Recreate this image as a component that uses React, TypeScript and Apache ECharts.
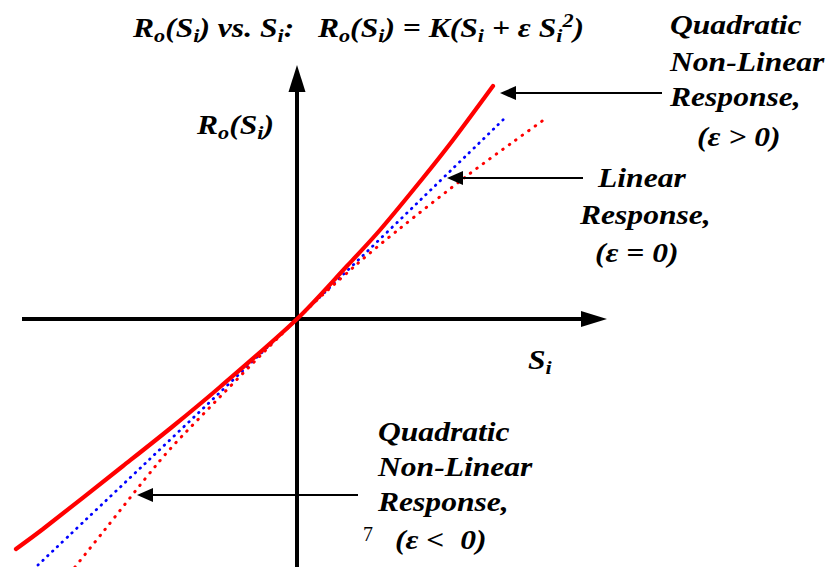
import React, { useEffect, useRef } from "react";
import * as echarts from "echarts";

// Input signal S_i and output response R_o(S_i) for the three response types
const linearS = [-2.59, 0, 2.08];
const linearR = [-2.46, 0, 2.01];

// epsilon > 0 : convex quadratic response (solid red)
const positiveS = [-2.81, -2.54, -1.74, -1.25, -0.77, 0, 0.5, 0.83, 1.26, 1.56, 1.96];
const positiveR = [-2.3, -2.1, -1.47, -1.08, -0.68, 0, 0.53, 0.89, 1.41, 1.79, 2.33];

// epsilon < 0 : concave quadratic response (dotted red)
const negativeS = [-2.22, -1.94, -1.39, -1.12, 0, 0.59, 1.01, 1.71, 2.16, 2.48];
const negativeR = [-2.48, -2.13, -1.44, -1.14, 0, 0.54, 0.89, 1.44, 1.77, 2.0];

// Axis extents (tail, arrow tip) in signal units
const sAxisTail: [number, number] = [-2.75, 0];
const sAxisTip: [number, number] = [3.1, 0];
const rAxisTail: [number, number] = [0, -2.6];
const rAxisTip: [number, number] = [0, 2.54];

// Callout pointers (tail, tip)
const pointerTails: [number, number][] = [
  [3.65, 2.26],
  [2.86, 1.41],
  [0.61, -1.76],
];
const pointerTips: [number, number][] = [
  [2.03, 2.26],
  [1.5, 1.41],
  [-1.6, -1.76],
];

const WIDTH = 830;
const HEIGHT = 567;
const PX_PER_UNIT = 100;
const ORIGIN_X = 297;
const ORIGIN_Y = 319;

const FONT = "'Liberation Serif', 'Times New Roman', serif";
const MAIN = 27;
const SMALL = 19;
const STRETCH = 1.17;

const rich = {
  b: { fontFamily: FONT, fontSize: MAIN, fontWeight: "bold", fontStyle: "italic", fill: "#000" },
  s: { fontFamily: FONT, fontSize: SMALL, fontWeight: "bold", fontStyle: "italic", fill: "#000", padding: [16, 0, 0, 0] },
  p: { fontFamily: FONT, fontSize: SMALL, fontWeight: "bold", fontStyle: "italic", fill: "#000", padding: [0, 0, 14, 0] },
};

const label = (text: string, x: number, y: number) => ({
  type: "text",
  x,
  y,
  scaleX: STRETCH,
  silent: true,
  z: 10,
  style: {
    text,
    rich,
    fontFamily: FONT,
    fontSize: MAIN,
    fontWeight: "bold",
    fontStyle: "italic",
    fill: "#000",
    textAlign: "left",
    textVerticalAlign: "middle",
    verticalAlign: "middle",
  },
});

const pairs = (xs: number[], ys: number[]) => xs.map((x, i) => [x, ys[i]]);

const curve = (S: number[], R: number[], color: string, width: number, dash: any, z: number) => ({
  type: "line",
  data: pairs(S, R),
  smooth: 0.3,
  symbol: "none",
  silent: true,
  z,
  lineStyle: { color, width, type: dash, cap: "round" },
});

// A straight shaft with a triangular head; the head is centred half its length behind the tip
const arrow = (
  tail: [number, number],
  tip: [number, number],
  head: [number, number],
  width: number,
  z: number
) => {
  const dx = tip[0] - tail[0];
  const dy = tip[1] - tail[1];
  const len = Math.hypot(dx, dy);
  const back = head[1] / 2 / PX_PER_UNIT;
  const centre = [tip[0] - (dx / len) * back, tip[1] - (dy / len) * back];
  const rot = (Math.atan2(dy, dx) * 180) / Math.PI - 90;
  return {
    type: "line",
    silent: true,
    z,
    symbol: "none",
    lineStyle: { color: "#000", width, type: "solid" },
    itemStyle: { color: "#000" },
    data: [
      { value: tail, symbol: "none" },
      { value: centre, symbol: "triangle", symbolSize: head, symbolRotate: rot },
    ],
  };
};

export default function App() {
  const ref = useRef<HTMLDivElement>(null);

  useEffect(() => {
    if (!ref.current) return;
    const chart = echarts.init(ref.current, undefined, { renderer: "svg" });
    chart.setOption({
      animation: false,
      backgroundColor: "#fff",
      grid: { left: 0, right: 0, top: 0, bottom: 0, containLabel: false },
      xAxis: {
        type: "value",
        min: -ORIGIN_X / PX_PER_UNIT,
        max: (WIDTH - ORIGIN_X) / PX_PER_UNIT,
        show: false,
        splitLine: { show: false },
      },
      yAxis: {
        type: "value",
        min: -(HEIGHT - ORIGIN_Y) / PX_PER_UNIT,
        max: ORIGIN_Y / PX_PER_UNIT,
        show: false,
        splitLine: { show: false },
      },
      series: [
        arrow(sAxisTail, sAxisTip, [16, 26], 4, 1),
        arrow(rAxisTail, rAxisTip, [17, 27], 4, 1),
        curve(linearS, linearR, "#0000ff", 2.8, [0.5, 6.2], 2),
        curve(negativeS, negativeR, "#ff0000", 3, [0.5, 7.5], 3),
        curve(positiveS, positiveR, "#ff0000", 4.2, "solid", 4),
        ...pointerTails.map((t, i) => arrow(t, pointerTips[i], [14, 16], 2, 5)),
      ],
      graphic: [
        label(
          "{b|R}{s|o}{b|(S}{s|i}{b|) vs. S}{s|i}{b|:   R}{s|o}{b|(S}{s|i}{b|) = K(S}{s|i}{b| + ε S}{s|i}{p|2}{b|)}",
          133,
          28
        ),
        label("{b|R}{s|o}{b|(S}{s|i}{b|)}", 197, 125),
        label("{b|S}{s|i}", 528, 360),
        label("Quadratic", 670, 25),
        label("Non-Linear", 670, 62),
        label("Response,", 670, 97),
        label("(ε > 0)", 697, 137),
        label("Linear", 598, 178),
        label("Response,", 580, 215),
        label("(ε = 0)", 595, 253),
        label("Quadratic", 378, 432),
        label("Non-Linear", 378, 467),
        label("Response,", 378, 502),
        label("(ε <  0)", 395, 540),
        {
          type: "text",
          x: 363,
          y: 534,
          silent: true,
          style: {
            text: "7",
            fontFamily: FONT,
            fontSize: 20,
            fill: "#000",
            textAlign: "left",
            textVerticalAlign: "middle",
            verticalAlign: "middle",
          },
        },
      ],
    });
    return () => chart.dispose();
  }, []);

  return (
    <div
      ref={ref}
      style={{ position: "absolute", left: 0, top: 0, width: WIDTH, height: HEIGHT, background: "#fff" }}
    />
  );
}
